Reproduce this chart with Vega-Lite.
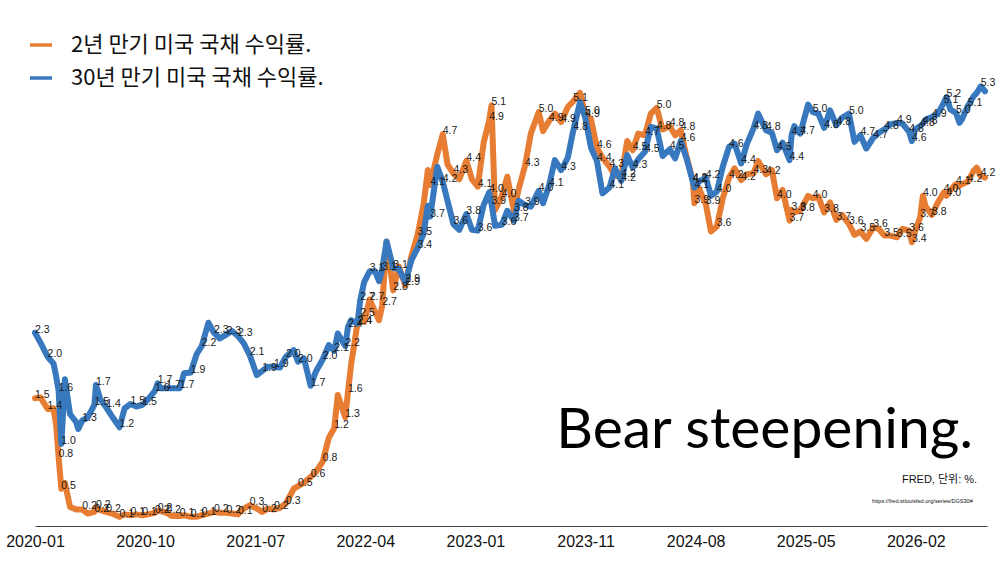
{
  "$schema": "https://vega.github.io/schema/vega-lite/v6.json",
  "width": 952,
  "height": 526,
  "autosize": {"type": "none"},
  "padding": {"left": 35, "top": 0, "right": 13, "bottom": 37},
  "background": "white",
  "config": {"view": {"stroke": null}},
  "layer": [
    {
      "data": {
        "values": [
          {"d": "2020-01-02", "2Y": 1.54, "30Y": 2.33},
          {"d": "2020-01-16", "2Y": 1.55, "30Y": 2.21},
          {"d": "2020-02-03", "2Y": 1.41, "30Y": 2.04},
          {"d": "2020-02-18", "2Y": 1.42, "30Y": 1.96},
          {"d": "2020-02-25", "2Y": 1.21, "30Y": 1.80},
          {"d": "2020-03-02", "2Y": 0.83, "30Y": 1.63},
          {"d": "2020-03-09", "2Y": 0.45, "30Y": 0.99},
          {"d": "2020-03-18", "2Y": 0.52, "30Y": 1.77},
          {"d": "2020-03-31", "2Y": 0.23, "30Y": 1.35},
          {"d": "2020-04-16", "2Y": 0.20, "30Y": 1.25},
          {"d": "2020-04-21", "2Y": 0.20, "30Y": 1.17},
          {"d": "2020-05-01", "2Y": 0.20, "30Y": 1.27},
          {"d": "2020-05-15", "2Y": 0.15, "30Y": 1.31},
          {"d": "2020-06-01", "2Y": 0.17, "30Y": 1.46},
          {"d": "2020-06-05", "2Y": 0.22, "30Y": 1.70},
          {"d": "2020-06-16", "2Y": 0.19, "30Y": 1.53},
          {"d": "2020-07-01", "2Y": 0.17, "30Y": 1.43},
          {"d": "2020-07-16", "2Y": 0.15, "30Y": 1.32},
          {"d": "2020-08-04", "2Y": 0.11, "30Y": 1.19},
          {"d": "2020-08-17", "2Y": 0.14, "30Y": 1.42},
          {"d": "2020-09-01", "2Y": 0.13, "30Y": 1.47},
          {"d": "2020-09-16", "2Y": 0.14, "30Y": 1.44},
          {"d": "2020-10-01", "2Y": 0.13, "30Y": 1.46},
          {"d": "2020-10-16", "2Y": 0.14, "30Y": 1.53},
          {"d": "2020-11-02", "2Y": 0.16, "30Y": 1.63},
          {"d": "2020-11-09", "2Y": 0.18, "30Y": 1.72},
          {"d": "2020-11-16", "2Y": 0.18, "30Y": 1.66},
          {"d": "2020-12-01", "2Y": 0.16, "30Y": 1.66},
          {"d": "2020-12-16", "2Y": 0.12, "30Y": 1.66},
          {"d": "2021-01-04", "2Y": 0.12, "30Y": 1.66},
          {"d": "2021-01-15", "2Y": 0.13, "30Y": 1.84},
          {"d": "2021-02-01", "2Y": 0.11, "30Y": 1.85},
          {"d": "2021-02-16", "2Y": 0.11, "30Y": 2.07},
          {"d": "2021-03-01", "2Y": 0.13, "30Y": 2.17},
          {"d": "2021-03-18", "2Y": 0.15, "30Y": 2.45},
          {"d": "2021-04-01", "2Y": 0.17, "30Y": 2.33},
          {"d": "2021-04-16", "2Y": 0.16, "30Y": 2.26},
          {"d": "2021-05-03", "2Y": 0.16, "30Y": 2.31},
          {"d": "2021-05-17", "2Y": 0.15, "30Y": 2.35},
          {"d": "2021-06-01", "2Y": 0.14, "30Y": 2.29},
          {"d": "2021-06-16", "2Y": 0.21, "30Y": 2.20},
          {"d": "2021-07-01", "2Y": 0.25, "30Y": 2.06},
          {"d": "2021-07-19", "2Y": 0.21, "30Y": 1.82},
          {"d": "2021-08-02", "2Y": 0.17, "30Y": 1.87},
          {"d": "2021-08-16", "2Y": 0.21, "30Y": 1.92},
          {"d": "2021-09-01", "2Y": 0.20, "30Y": 1.92},
          {"d": "2021-09-16", "2Y": 0.22, "30Y": 1.91},
          {"d": "2021-10-01", "2Y": 0.27, "30Y": 2.04},
          {"d": "2021-10-21", "2Y": 0.45, "30Y": 2.12},
          {"d": "2021-11-01", "2Y": 0.48, "30Y": 1.98},
          {"d": "2021-11-16", "2Y": 0.52, "30Y": 2.02},
          {"d": "2021-12-03", "2Y": 0.59, "30Y": 1.69},
          {"d": "2021-12-16", "2Y": 0.65, "30Y": 1.86},
          {"d": "2022-01-03", "2Y": 0.78, "30Y": 2.01},
          {"d": "2022-01-18", "2Y": 1.06, "30Y": 2.18},
          {"d": "2022-02-01", "2Y": 1.18, "30Y": 2.11},
          {"d": "2022-02-10", "2Y": 1.58, "30Y": 2.32},
          {"d": "2022-03-01", "2Y": 1.31, "30Y": 2.17},
          {"d": "2022-03-08", "2Y": 1.62, "30Y": 2.40},
          {"d": "2022-03-16", "2Y": 1.95, "30Y": 2.48},
          {"d": "2022-04-01", "2Y": 2.44, "30Y": 2.44},
          {"d": "2022-04-08", "2Y": 2.53, "30Y": 2.72},
          {"d": "2022-04-18", "2Y": 2.46, "30Y": 2.94},
          {"d": "2022-05-02", "2Y": 2.73, "30Y": 3.07},
          {"d": "2022-05-16", "2Y": 2.58, "30Y": 3.07},
          {"d": "2022-05-26", "2Y": 2.48, "30Y": 2.95},
          {"d": "2022-06-03", "2Y": 2.66, "30Y": 3.09},
          {"d": "2022-06-14", "2Y": 3.43, "30Y": 3.43},
          {"d": "2022-07-01", "2Y": 2.84, "30Y": 3.11},
          {"d": "2022-07-15", "2Y": 3.13, "30Y": 3.10},
          {"d": "2022-08-01", "2Y": 2.90, "30Y": 2.94},
          {"d": "2022-08-16", "2Y": 3.25, "30Y": 3.20},
          {"d": "2022-09-01", "2Y": 3.51, "30Y": 3.35},
          {"d": "2022-09-16", "2Y": 3.87, "30Y": 3.52},
          {"d": "2022-09-27", "2Y": 4.29, "30Y": 3.86},
          {"d": "2022-10-03", "2Y": 4.11, "30Y": 3.73},
          {"d": "2022-10-21", "2Y": 4.48, "30Y": 4.33},
          {"d": "2022-11-04", "2Y": 4.72, "30Y": 4.15},
          {"d": "2022-11-16", "2Y": 4.36, "30Y": 3.92},
          {"d": "2022-12-01", "2Y": 4.25, "30Y": 3.64},
          {"d": "2022-12-16", "2Y": 4.18, "30Y": 3.57},
          {"d": "2023-01-03", "2Y": 4.40, "30Y": 3.76},
          {"d": "2023-01-17", "2Y": 4.18, "30Y": 3.57},
          {"d": "2023-02-01", "2Y": 4.09, "30Y": 3.56},
          {"d": "2023-02-16", "2Y": 4.62, "30Y": 3.87},
          {"d": "2023-03-02", "2Y": 4.89, "30Y": 4.02},
          {"d": "2023-03-08", "2Y": 5.07, "30Y": 3.88},
          {"d": "2023-03-17", "2Y": 3.81, "30Y": 3.62},
          {"d": "2023-04-03", "2Y": 3.97, "30Y": 3.63},
          {"d": "2023-04-17", "2Y": 4.21, "30Y": 3.80},
          {"d": "2023-05-04", "2Y": 3.80, "30Y": 3.68},
          {"d": "2023-05-16", "2Y": 4.06, "30Y": 3.92},
          {"d": "2023-06-01", "2Y": 4.34, "30Y": 3.87},
          {"d": "2023-06-16", "2Y": 4.73, "30Y": 3.85},
          {"d": "2023-07-06", "2Y": 4.99, "30Y": 4.04},
          {"d": "2023-07-17", "2Y": 4.76, "30Y": 3.89},
          {"d": "2023-08-01", "2Y": 4.88, "30Y": 4.10},
          {"d": "2023-08-16", "2Y": 4.97, "30Y": 4.41},
          {"d": "2023-09-01", "2Y": 4.87, "30Y": 4.29},
          {"d": "2023-09-18", "2Y": 5.05, "30Y": 4.44},
          {"d": "2023-10-02", "2Y": 5.12, "30Y": 4.77},
          {"d": "2023-10-19", "2Y": 5.22, "30Y": 5.11},
          {"d": "2023-11-01", "2Y": 4.97, "30Y": 4.93},
          {"d": "2023-11-16", "2Y": 4.90, "30Y": 4.56},
          {"d": "2023-12-01", "2Y": 4.56, "30Y": 4.40},
          {"d": "2023-12-15", "2Y": 4.44, "30Y": 4.01},
          {"d": "2024-01-02", "2Y": 4.33, "30Y": 4.08},
          {"d": "2024-01-16", "2Y": 4.22, "30Y": 4.31},
          {"d": "2024-02-01", "2Y": 4.21, "30Y": 4.16},
          {"d": "2024-02-16", "2Y": 4.64, "30Y": 4.47},
          {"d": "2024-03-01", "2Y": 4.53, "30Y": 4.32},
          {"d": "2024-03-15", "2Y": 4.73, "30Y": 4.42},
          {"d": "2024-04-01", "2Y": 4.71, "30Y": 4.51},
          {"d": "2024-04-16", "2Y": 4.97, "30Y": 4.81},
          {"d": "2024-05-01", "2Y": 5.04, "30Y": 4.79},
          {"d": "2024-05-16", "2Y": 4.78, "30Y": 4.46},
          {"d": "2024-06-03", "2Y": 4.82, "30Y": 4.54},
          {"d": "2024-06-17", "2Y": 4.71, "30Y": 4.43},
          {"d": "2024-07-01", "2Y": 4.77, "30Y": 4.64},
          {"d": "2024-07-16", "2Y": 4.45, "30Y": 4.43},
          {"d": "2024-08-01", "2Y": 4.16, "30Y": 4.15},
          {"d": "2024-08-05", "2Y": 3.89, "30Y": 4.08},
          {"d": "2024-08-16", "2Y": 4.07, "30Y": 4.15},
          {"d": "2024-09-03", "2Y": 3.88, "30Y": 4.20},
          {"d": "2024-09-16", "2Y": 3.55, "30Y": 3.98},
          {"d": "2024-10-01", "2Y": 3.61, "30Y": 4.03},
          {"d": "2024-10-16", "2Y": 3.95, "30Y": 4.33},
          {"d": "2024-11-01", "2Y": 4.20, "30Y": 4.57},
          {"d": "2024-11-15", "2Y": 4.31, "30Y": 4.61},
          {"d": "2024-12-02", "2Y": 4.17, "30Y": 4.37},
          {"d": "2024-12-16", "2Y": 4.24, "30Y": 4.60},
          {"d": "2025-01-02", "2Y": 4.25, "30Y": 4.79},
          {"d": "2025-01-14", "2Y": 4.40, "30Y": 4.97},
          {"d": "2025-02-03", "2Y": 4.24, "30Y": 4.77},
          {"d": "2025-02-18", "2Y": 4.29, "30Y": 4.74},
          {"d": "2025-03-03", "2Y": 3.95, "30Y": 4.53},
          {"d": "2025-03-17", "2Y": 4.05, "30Y": 4.62},
          {"d": "2025-04-04", "2Y": 3.68, "30Y": 4.41},
          {"d": "2025-04-09", "2Y": 3.81, "30Y": 4.71},
          {"d": "2025-04-16", "2Y": 3.78, "30Y": 4.82},
          {"d": "2025-05-01", "2Y": 3.80, "30Y": 4.73},
          {"d": "2025-05-21", "2Y": 3.98, "30Y": 5.08},
          {"d": "2025-06-02", "2Y": 3.95, "30Y": 4.99},
          {"d": "2025-06-16", "2Y": 3.97, "30Y": 4.97},
          {"d": "2025-07-01", "2Y": 3.78, "30Y": 4.80},
          {"d": "2025-07-16", "2Y": 3.90, "30Y": 5.01},
          {"d": "2025-08-01", "2Y": 3.69, "30Y": 4.83},
          {"d": "2025-08-15", "2Y": 3.75, "30Y": 4.92},
          {"d": "2025-09-02", "2Y": 3.64, "30Y": 4.97},
          {"d": "2025-09-16", "2Y": 3.51, "30Y": 4.63},
          {"d": "2025-10-01", "2Y": 3.55, "30Y": 4.71},
          {"d": "2025-10-16", "2Y": 3.46, "30Y": 4.55},
          {"d": "2025-11-03", "2Y": 3.60, "30Y": 4.68},
          {"d": "2025-11-17", "2Y": 3.58, "30Y": 4.74},
          {"d": "2025-12-01", "2Y": 3.50, "30Y": 4.78},
          {"d": "2025-12-16", "2Y": 3.50, "30Y": 4.84},
          {"d": "2026-01-02", "2Y": 3.48, "30Y": 4.86},
          {"d": "2026-01-16", "2Y": 3.58, "30Y": 4.85},
          {"d": "2026-02-02", "2Y": 3.56, "30Y": 4.75},
          {"d": "2026-02-09", "2Y": 3.42, "30Y": 4.64},
          {"d": "2026-02-17", "2Y": 3.55, "30Y": 4.78},
          {"d": "2026-03-02", "2Y": 3.72, "30Y": 4.82},
          {"d": "2026-03-09", "2Y": 3.98, "30Y": 4.85},
          {"d": "2026-03-16", "2Y": 3.85, "30Y": 4.90},
          {"d": "2026-04-01", "2Y": 3.75, "30Y": 4.93},
          {"d": "2026-04-16", "2Y": 3.90, "30Y": 4.97},
          {"d": "2026-05-01", "2Y": 4.02, "30Y": 5.10},
          {"d": "2026-05-08", "2Y": 3.98, "30Y": 5.17},
          {"d": "2026-05-18", "2Y": 4.05, "30Y": 5.02},
          {"d": "2026-06-01", "2Y": 4.12, "30Y": 4.98},
          {"d": "2026-06-10", "2Y": 4.10, "30Y": 4.86},
          {"d": "2026-06-16", "2Y": 4.12, "30Y": 4.90},
          {"d": "2026-07-01", "2Y": 4.15, "30Y": 5.06},
          {"d": "2026-07-16", "2Y": 4.28, "30Y": 5.18},
          {"d": "2026-07-24", "2Y": 4.32, "30Y": 5.22},
          {"d": "2026-08-03", "2Y": 4.22, "30Y": 5.30},
          {"d": "2026-08-14", "2Y": 4.20, "30Y": 5.24}
        ]
      },
      "transform": [{"fold": ["2Y", "30Y"], "as": ["series", "value"]}],
      "encoding": {
        "x": {
          "field": "d",
          "type": "temporal",
          "title": null,
          "scale": {
            "domain": [
              {"year": 2020, "month": 1, "date": 2},
              {"year": 2026, "month": 8, "date": 19}
            ]
          },
          "axis": {
            "values": [
              {"year": 2020, "month": 1, "date": 2},
              {"year": 2020, "month": 10, "date": 8},
              {"year": 2021, "month": 7, "date": 15},
              {"year": 2022, "month": 4, "date": 21},
              {"year": 2023, "month": 1, "date": 26},
              {"year": 2023, "month": 11, "date": 2},
              {"year": 2024, "month": 8, "date": 8},
              {"year": 2025, "month": 5, "date": 15},
              {"year": 2026, "month": 2, "date": 19}
            ],
            "format": "%Y-%m",
            "grid": false,
            "ticks": false,
            "tickSize": 0,
            "labelPadding": 7,
            "labelFont": "Liberation Sans",
            "labelFontSize": 16,
            "labelColor": "#111",
            "domainColor": "#444",
            "labelFlush": false,
            "labelOverlap": false,
            "labelBound": false
          }
        },
        "y": {
          "field": "value",
          "type": "quantitative",
          "scale": {"domain": [0, 6.34], "nice": false, "zero": false},
          "axis": null
        }
      },
      "layer": [
        {
          "mark": {"type": "line", "strokeWidth": 6, "strokeJoin": "round", "strokeCap": "round"},
          "encoding": {
            "color": {
              "field": "series",
              "type": "nominal",
              "scale": {"domain": ["2Y", "30Y"], "range": ["#E67D32", "#3778BE"]},
              "legend": {
                "orient": "none",
                "legendX": -7,
                "legendY": 32,
                "title": null,
                "padding": 0,
                "symbolType": "stroke",
                "symbolSize": 484,
                "symbolStrokeWidth": 3.5,
                "labelFont": "Noto Sans CJK KR",
                "labelFontSize": 22,
                "labelColor": "#111",
                "labelOffset": 17,
                "labelLimit": 600,
                "rowPadding": 9,
                "labelExpr": "datum.label == '2Y' ? '2년 만기 미국 국채 수익률.' : '30년 만기 미국 국채 수익률.'"
              }
            }
          }
        },
        {
          "transform": [{"filter": "utcdate(datum.d) < 10"}],
          "mark": {"type": "text", "align": "left", "baseline": "alphabetic", "font": "Liberation Sans", "fontSize": 10.5, "color": "#1a1a1a"},
          "encoding": {
            "text": {"field": "value", "type": "quantitative", "format": ".1f"}
          }
        }
      ]
    },
    {
      "data": {"values": [{"note": "Bear steepening."}]},
      "mark": {"type": "text", "align": "right", "baseline": "alphabetic", "font": "Lato", "fontSize": 57, "color": "#000"},
      "encoding": {
        "x": {"datum": {"year": 2026, "month": 7, "date": 14}, "type": "temporal"},
        "y": {"datum": 0.94, "type": "quantitative"},
        "text": {"field": "note"}
      }
    },
    {
      "data": {"values": [{"note": "FRED, 단위: %."}]},
      "mark": {"type": "text", "align": "right", "baseline": "alphabetic", "font": "Liberation Sans, Noto Sans CJK KR", "fontSize": 11, "color": "#111"},
      "encoding": {
        "x": {"datum": {"year": 2026, "month": 7, "date": 25}, "type": "temporal"},
        "y": {"datum": 0.52, "type": "quantitative"},
        "text": {"field": "note"}
      }
    },
    {
      "data": {"values": [{"note": "https://fred.stlouisfed.org/series/DGS30#"}]},
      "mark": {"type": "text", "align": "right", "baseline": "alphabetic", "font": "Liberation Sans", "fontSize": 5.6, "color": "#111"},
      "encoding": {
        "x": {"datum": {"year": 2026, "month": 7, "date": 14}, "type": "temporal"},
        "y": {"datum": 0.28, "type": "quantitative"},
        "text": {"field": "note"}
      }
    }
  ]
}
